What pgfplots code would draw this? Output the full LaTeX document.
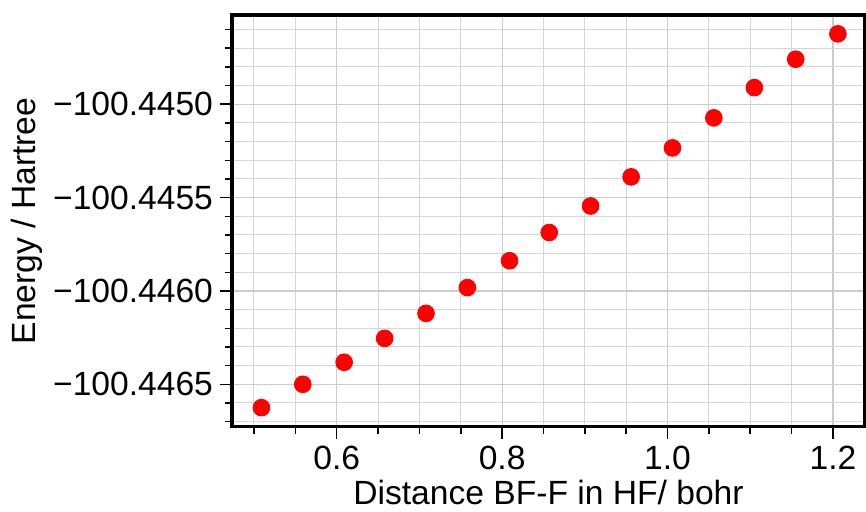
\documentclass[border=0pt]{standalone}
\usepackage{fontspec}
\setmainfont{Liberation Sans}
\usepackage{pgfplots}
\pgfplotsset{compat=1.18}
% Energies stored as E + 100 Hartree (keeps full precision in pgfplots' FPU)
\pgfplotstableread{
x      dE
0.509  -0.446625
0.559  -0.446500
0.609  -0.446382
0.658  -0.446254
0.708  -0.446120
0.758  -0.445982
0.809  -0.445838
0.857  -0.445687
0.907  -0.445545
0.956  -0.445389
1.006  -0.445234
1.056  -0.445073
1.105  -0.444911
1.155  -0.444759
1.206  -0.444623
}\energy
\begin{document}
\begin{tikzpicture}
\useasboundingbox (-116pt,-42.65pt) rectangle (317pt,213.35pt);
\begin{axis}[
  scale only axis,
  width=316.5pt, height=205.85pt,
  xmin=0.4734, xmax=1.2388,
  ymin=-0.446727, ymax=-0.444522,
  xtick={0.6,0.8,1.0,1.2},
  xticklabels={0.6,0.8,1.0,1.2},
  minor xtick={0.5,0.55,0.65,0.7,0.75,0.85,0.9,0.95,1.05,1.1,1.15},
  ytick={-0.4465,-0.446,-0.4455,-0.445},
  yticklabels={−100.4465,−100.4460,−100.4455,−100.4450},
  minor ytick={-0.4467,-0.4466,-0.4464,-0.4463,-0.4462,-0.4461,-0.4459,-0.4458,-0.4457,-0.4456,-0.4454,-0.4453,-0.4452,-0.4451,-0.4449,-0.4448,-0.4447,-0.4446},
  scaled y ticks=false,
  tick align=outside,
  xtick pos=bottom, ytick pos=left,
  major tick length=6pt, minor tick length=3.5pt,
  every tick/.style={black, line width=0.75pt},
  grid=both,
  major grid style={gray!40, line width=0.6pt},
  minor grid style={gray!32, line width=0.5pt},
  axis line style={line width=1.6pt},
  tick label style={font=\fontsize{16.8}{20}\selectfont},
  xlabel={Distance BF-F in HF/ bohr},
  ylabel={Energy / Hartree},
  every axis y label/.style={at={(axis description cs:-0.324,0.5)}, rotate=90, anchor=center, inner sep=0pt, font=\fontsize{16.8}{20}\selectfont},
  every axis x label/.style={at={(axis description cs:0.5,-0.188)}, anchor=base, inner sep=0pt, font=\fontsize{16.8}{20}\selectfont},
]
\addplot[only marks, mark=*, mark size=4.2pt, mark options={fill=red, draw=red}] table[x=x, y=dE] {\energy};
\end{axis}
\end{tikzpicture}
\end{document}
